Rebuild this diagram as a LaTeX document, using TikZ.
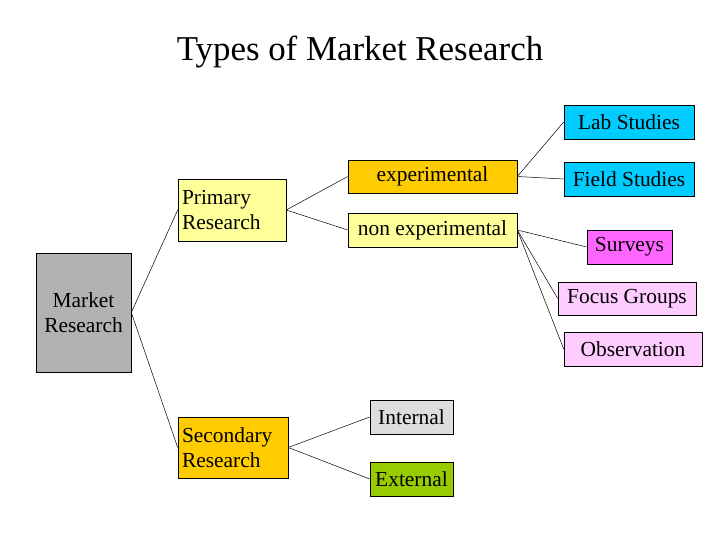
\documentclass[tikz,border=0pt]{standalone}
\usepackage{fontspec}
\setmainfont{Liberation Serif}
\definecolor{mgray}{HTML}{B2B2B2}
\definecolor{lyel}{HTML}{FFFF99}
\definecolor{orng}{HTML}{FFCC00}
\definecolor{cyanb}{HTML}{00CCFF}
\definecolor{magb}{HTML}{FF66FF}
\definecolor{lpink}{HTML}{FFCCFF}
\definecolor{lgray}{HTML}{DDDDDD}
\definecolor{grn}{HTML}{99CC00}
\begin{document}
\begin{tikzpicture}[x=1bp,y=-1bp,
  box/.style={draw=black,line width=0.6bp,inner sep=0pt,font=\fontsize{21.5}{25}\selectfont},
  conn/.style={draw=black,line width=0.5bp}]
\useasboundingbox (0,0) rectangle (720,540);
\node[font=\fontsize{35}{40}\selectfont] (title) at (360,52) {Types of Market Research};
\node[box,fill=mgray,minimum width=95bp,minimum height=119bp,align=center] (mr) at (83.5,312.5) {Market\\Research};
\node[box,fill=lyel,minimum width=108bp,minimum height=62bp,align=left,text width=100bp] (pr) at (232,210) {Primary\\Research};
\node[box,fill=orng,minimum width=110bp,minimum height=61bp,align=left,text width=102bp] (sr) at (233,447.5) {Secondary\\Research};
\node[box,fill=orng,minimum width=169bp,minimum height=33bp] (ex) at (432.5,176.5) {experimental};
\node[box,fill=lyel,minimum width=169bp,minimum height=34bp] (nx) at (432.5,230) {non experimental};
\node[box,fill=cyanb,minimum width=130bp,minimum height=34bp] (lab) at (629,122) {Lab Studies};
\node[box,fill=cyanb,minimum width=130bp,minimum height=34bp] (fs) at (629,179) {Field Studies};
\node[box,fill=magb,minimum width=85bp,minimum height=34bp] (sv) at (629.5,247) {Surveys};
\node[box,fill=lpink,minimum width=138bp,minimum height=33bp] (fg) at (627,298.5) {Focus Groups};
\node[box,fill=lpink,minimum width=138bp,minimum height=34bp] (ob) at (633,349) {Observation};
\node[box,fill=lgray,minimum width=83bp,minimum height=34bp] (in) at (411.5,417) {Internal};
\node[box,fill=grn,minimum width=83bp,minimum height=34bp] (ext) at (411.5,479) {External};
\draw[conn] (mr.east) -- (pr.west);
\draw[conn] (mr.east) -- (sr.west);
\draw[conn] (pr.east) -- (ex.west);
\draw[conn] (pr.east) -- (nx.west);
\draw[conn] (sr.east) -- (in.west);
\draw[conn] (sr.east) -- (ext.west);
\draw[conn] (ex.east) -- (lab.west);
\draw[conn] (ex.east) -- (fs.west);
\draw[conn] (nx.east) -- (sv.west);
\draw[conn] (nx.east) -- (fg.west);
\draw[conn] (nx.east) -- (ob.west);
\end{tikzpicture}
\end{document}
